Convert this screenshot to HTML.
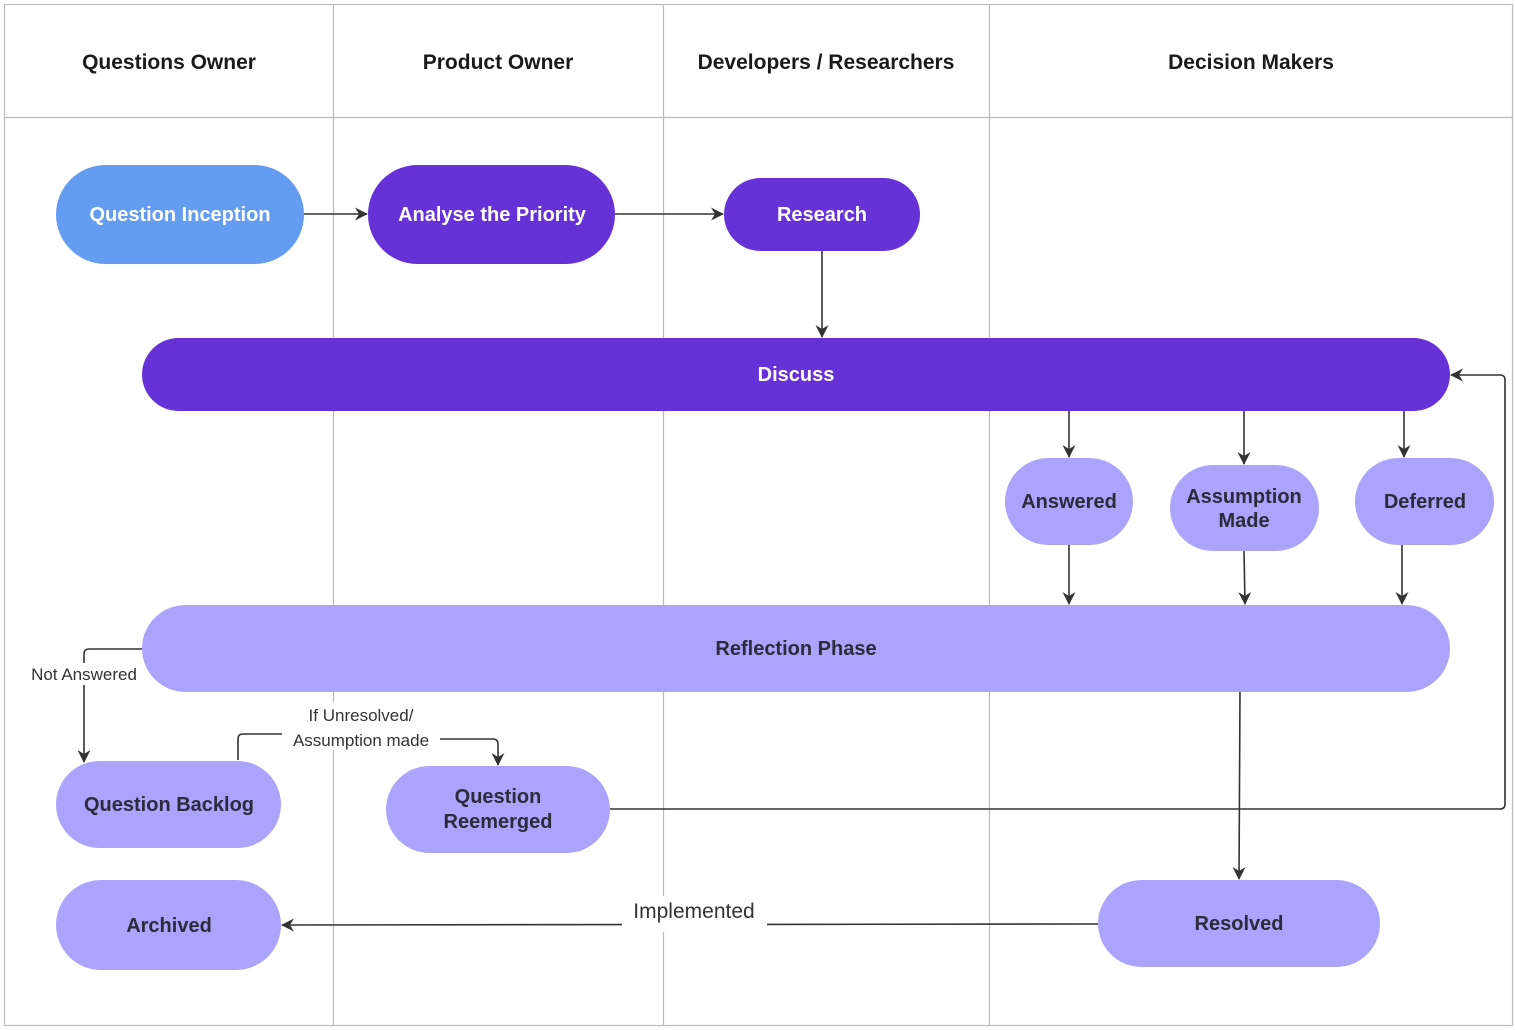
<!DOCTYPE html>
<html><head><meta charset="utf-8"><style>body{margin:0;background:#fff}svg{display:block}</style></head><body>
<svg width="1515" height="1030" viewBox="0 0 1515 1030" xmlns="http://www.w3.org/2000/svg" font-family="Liberation Sans, sans-serif">
<defs><marker id="a" markerWidth="13" markerHeight="13" refX="12" refY="6.5" orient="auto" markerUnits="userSpaceOnUse"><path d="M0,0 L13,6.5 L0,13 L4,6.5 z" fill="#333"/></marker></defs>
<g stroke="#bbb" stroke-width="1.2" fill="none">
<rect x="4.5" y="4.5" width="1508" height="1021"/>
<line x1="4" y1="117.5" x2="1513" y2="117.5"/>
<line x1="333.5" y1="4" x2="333.5" y2="1026"/>
<line x1="663.5" y1="4" x2="663.5" y2="1026"/>
<line x1="989.5" y1="4" x2="989.5" y2="1026"/>
</g>
<g font-size="21" font-weight="bold" fill="#1a1a1a" text-anchor="middle">
<text x="169" y="69">Questions Owner</text>
<text x="498" y="69">Product Owner</text>
<text x="826" y="69">Developers / Researchers</text>
<text x="1251" y="69">Decision Makers</text>
</g>
<g stroke="#333" stroke-width="1.6" fill="none" marker-end="url(#a)">
<line x1="304" y1="214" x2="367" y2="214"/>
<line x1="615" y1="214" x2="723" y2="214"/>
<line x1="822" y1="251" x2="822" y2="337"/>
<line x1="1069" y1="411" x2="1069" y2="457"/>
<line x1="1244" y1="411" x2="1244" y2="464"/>
<line x1="1404" y1="398" x2="1404" y2="457"/>
<line x1="1069" y1="545" x2="1069" y2="604"/>
<line x1="1244" y1="551" x2="1245" y2="604"/>
<line x1="1402" y1="545" x2="1402" y2="604"/>
<line x1="1240" y1="692" x2="1239" y2="879"/>
<path d="M610,809 L1500,809 Q1505,809 1505,804 L1505,380 Q1505,375 1500,375 L1451,375"/>
<path d="M142,649 L89,649 Q84,649 84,654 L84,762"/>
<path d="M238,760 L238,739 Q238,734 243,734 L360,734 L360,739 L493,739 Q498,739 498,744 L498,765" />
<path d="M1098,924 L282,925"/>
</g>
<rect x="24" y="663" width="120" height="22" fill="#fff"/>
<rect x="282" y="702" width="158" height="48" fill="#fff"/>
<rect x="622" y="896" width="145" height="36" fill="#fff"/>
<g font-size="17" fill="#333" text-anchor="middle">
<text x="84" y="680">Not Answered</text>
<text x="361" y="721">If Unresolved/</text>
<text x="361" y="746">Assumption made</text>
<text x="694" y="918" font-size="21">Implemented</text>
</g>
<g>
<rect x="56" y="165" width="248" height="99" rx="49.5" fill="#639cf0"/>
<rect x="368" y="165" width="247" height="99" rx="49.5" fill="#6731d8"/>
<rect x="724" y="178" width="196" height="73" rx="36.5" fill="#6731d8"/>
<rect x="142" y="338" width="1308" height="73" rx="36.5" fill="#6731d8"/>
<g fill="#aba3fc">
<rect x="1005" y="458" width="128" height="87" rx="43.5"/>
<rect x="1170" y="465" width="149" height="86" rx="43"/>
<rect x="1355" y="458" width="139" height="87" rx="43.5"/>
<rect x="142" y="605" width="1308" height="87" rx="43.5"/>
<rect x="56" y="761" width="225" height="87" rx="43.5"/>
<rect x="386" y="766" width="224" height="87" rx="43.5"/>
<rect x="56" y="880" width="225" height="90" rx="45"/>
<rect x="1098" y="880" width="282" height="87" rx="43.5"/>
</g>
</g>
<g font-size="20" font-weight="bold" fill="#fff" text-anchor="middle">
<text x="180" y="221">Question Inception</text>
<text x="492" y="221">Analyse the Priority</text>
<text x="822" y="221">Research</text>
<text x="796" y="381">Discuss</text>
</g>
<g font-size="20" font-weight="bold" fill="#2d2a3a" text-anchor="middle">
<text x="1069" y="508">Answered</text>
<text x="1244" y="503">Assumption</text>
<text x="1244" y="527">Made</text>
<text x="1425" y="508">Deferred</text>
<text x="796" y="655">Reflection Phase</text>
<text x="169" y="811">Question Backlog</text>
<text x="498" y="803">Question</text>
<text x="498" y="828">Reemerged</text>
<text x="169" y="932">Archived</text>
<text x="1239" y="930">Resolved</text>
</g>
</svg>
</body></html>
